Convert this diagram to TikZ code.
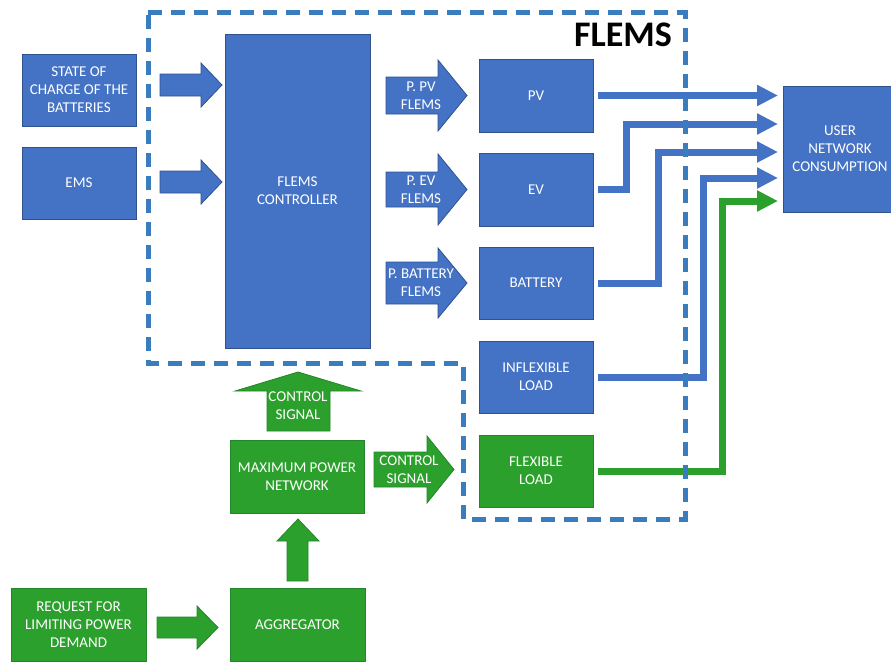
\documentclass[tikz,border=0pt]{standalone}
\usepackage{fontspec}
\setmainfont{Carlito}
\usetikzlibrary{arrows.meta}
\usepackage{xcolor}
\definecolor{boxblue}{HTML}{4472C4}
\definecolor{boxedge}{HTML}{2F528F}
\definecolor{boxgreen}{HTML}{2CA02C}
\definecolor{greenedge}{HTML}{23862A}
\definecolor{dashblue}{HTML}{3A7DBE}

\begin{document}
\begin{tikzpicture}[x=1pt,y=-1pt]
 \tikzstyle{every node}=[text=white, align=center, inner sep=0pt,
                        font=\fontsize{15}{18}\selectfont]
 \tikzstyle{bluebox}=[draw=boxedge, fill=boxblue, line width=0.8pt]
 \tikzstyle{greenbox}=[draw=greenedge, fill=boxgreen, line width=0.8pt]
 \tikzstyle{flow}=[line width=7pt, line join=miter,
                   -{Triangle[length=21pt,width=20pt]}]
 \tikzstyle{boundary}=[draw=dashblue, line width=5pt,
                       dash pattern=on 14pt off 9pt]

        \useasboundingbox (0,0) rectangle (891,661);

        % inputs and controller
        \node[bluebox, minimum width=114pt, minimum height=72pt] (soc) at (79,90) {STATE OF\\CHARGE OF THE\\BATTERIES};
        \node[bluebox, minimum width=114pt, minimum height=72pt] (ems) at (79,183) {EMS};
        \node[bluebox, minimum width=145pt, minimum height=314pt] (ctrl) at (297.5,191) {FLEMS\\CONTROLLER};

        % loads
        \node[bluebox, minimum width=114pt, minimum height=73pt] (pv) at (536,95.5) {PV};
        \node[bluebox, minimum width=114pt, minimum height=73pt] (ev) at (536,189.5) {EV};
        \node[bluebox, minimum width=114pt, minimum height=72pt] (bat) at (536,283) {BATTERY};
        \node[bluebox, minimum width=114pt, minimum height=72pt] (infl) at (536,377) {INFLEXIBLE\\LOAD};
        \node[greenbox, minimum width=114pt, minimum height=72pt] (flex) at (536,471) {FLEXIBLE\\LOAD};

        \node[bluebox, minimum width=114pt, minimum height=126pt] (user) at (840,149) {USER\\NETWORK\\CONSUMPTION};

        % aggregator side
        \node[greenbox, minimum width=134pt, minimum height=73pt] (maxp) at (297,476.5) {MAXIMUM POWER\\NETWORK};
        \node[greenbox, minimum width=135pt, minimum height=73pt] (aggr) at (297.5,624.5) {AGGREGATOR};
        \node[greenbox, minimum width=135pt, minimum height=73pt] (req) at (78.5,624.5) {REQUEST FOR\\LIMITING POWER\\DEMAND};

        % block arrows
        \filldraw[bluebox] (160,74) -- (201,74) -- (201,63) -- (222,85) -- (201,107) -- (201,96) -- (160,96) -- cycle;
        \filldraw[bluebox] (160,171) -- (201,171) -- (201,160) -- (222,182) -- (201,204) -- (201,193) -- (160,193) -- cycle;
        \filldraw[bluebox] (386,77) -- (438,77) -- (438,60) -- (467,95.5) -- (438,131) -- (438,114) -- (386,114) -- cycle;
        \filldraw[bluebox] (386,172) -- (438,172) -- (438,154) -- (467,189.5) -- (438,225) -- (438,207) -- (386,207) -- cycle;
        \filldraw[bluebox] (386,262) -- (438,262) -- (438,248) -- (467,283) -- (438,318) -- (438,304) -- (386,304) -- cycle;
        \node (ppv) at (421,95.5) {P. PV\\FLEMS};
        \node (pev) at (421,189.5) {P. EV\\FLEMS};
        \node (pbat) at (421,283) {P. BATTERY\\FLEMS};

        \filldraw[greenbox] (267,431) -- (267,391) -- (235,391) -- (298,372) -- (361,391) -- (330,391) -- (330,431) -- cycle;
        \filldraw[greenbox] (374,452) -- (427,452) -- (427,436) -- (454,469.5) -- (427,503) -- (427,487) -- (374,487) -- cycle;
        \filldraw[greenbox] (157,617) -- (197,617) -- (197,606) -- (218,627.5) -- (197,649) -- (197,638) -- (157,638) -- cycle;
        \filldraw[greenbox] (287,581) -- (287,541) -- (277,541) -- (298,519) -- (319,541) -- (308,541) -- (308,581) -- cycle;
        \node (sigup) at (298,406) {CONTROL\\SIGNAL};
        \node (sigright) at (409,469.5) {CONTROL\\SIGNAL};

        % lines into the user network
        \coordinate (in1) at (778,95.5);
        \coordinate (in2) at (778,124);
        \coordinate (in3) at (778,152);
        \coordinate (in4) at (778,178);
        \coordinate (in5) at (778,201);

        \draw[flow, boxblue] ([xshift=5pt]pv.east) -- (in1);
        \draw[flow, boxblue] ([xshift=5pt]ev.east) -| (626,124) -- (in2);
        \draw[flow, boxblue] ([xshift=5pt]bat.east) -| (658,152) -- (in3);
        \draw[flow, boxblue] ([xshift=5pt]infl.east) -| (703,178) -- (in4);
        \draw[flow, boxgreen] ([xshift=5pt]flex.east) -| (722,201) -- (in5);

        % FLEMS boundary
        \draw[boundary] (148,13) -- (685,13) -- (685,519) -- (463,519) -- (463,363) -- (148,363) -- cycle;
        \node[text=black, font=\fontsize{36}{40}\selectfont\bfseries, anchor=base east] (title) at (672,47) {FLEMS};

\end{tikzpicture}
\end{document}
